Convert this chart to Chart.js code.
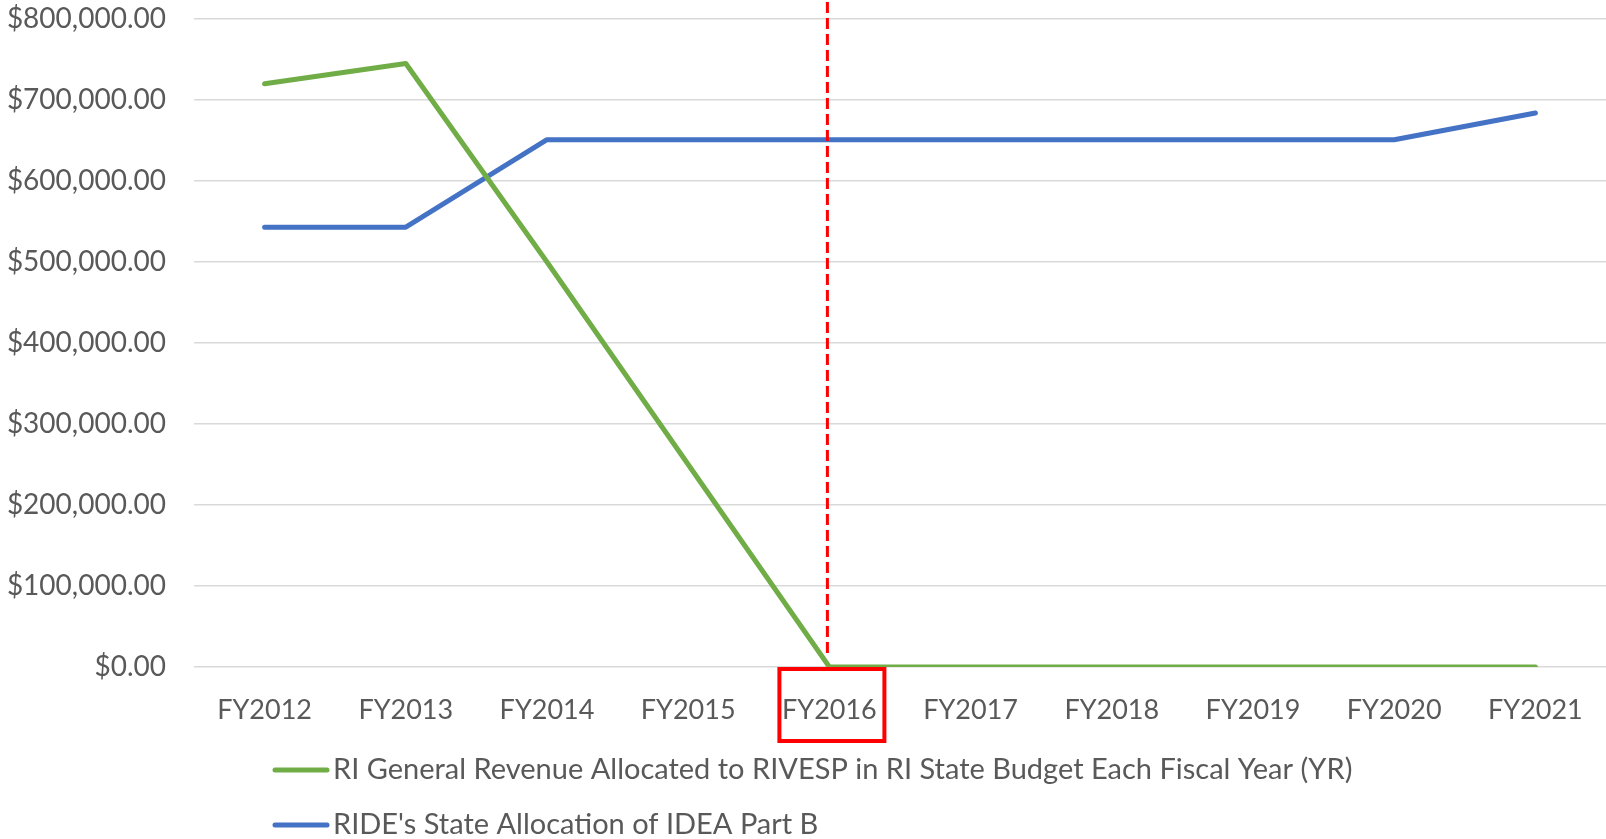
<!DOCTYPE html>
<html>
<head>
<meta charset="utf-8">
<script src="https://cdn.jsdelivr.net/npm/chart.js@4/dist/chart.umd.min.js"></script>
<style>
    html, body { margin: 0; padding: 0; background: #ffffff; }
    #wrap { width: 1606px; height: 839px; position: relative; }
</style>
</head>
<body>
<div id="wrap"><canvas id="chart"></canvas></div>
<script>
// Data
const categories = ['FY2012', 'FY2013', 'FY2014', 'FY2015', 'FY2016', 'FY2017', 'FY2018', 'FY2019', 'FY2020', 'FY2021'];
const rivespRevenue = [720000, 745000, 500000, 250000, 0, 0, 0, 0, 0, 0];
const ideaPartB = [543000, 543000, 651000, 651000, 651000, 651000, 651000, 651000, 651000, 684000];
const yTicks = [0, 100000, 200000, 300000, 400000, 500000, 600000, 700000, 800000];
const seriesLabels = [
    'RI General Revenue Allocated to RIVESP in RI State Budget Each Fiscal Year (YR)',
    "RIDE's State Allocation of IDEA Part B"
];
const highlightCategory = 'FY2016';

const FONT = "Lato, 'Open Sans', sans-serif";
const TEXT_COLOR = '#595959';

// Red dashed marker + box around the highlighted year
const highlightPlugin = {
    id: 'highlight',
    afterDatasetsDraw(chart) {
        const ctx = chart.ctx;
        const x = chart.scales.x.getPixelForValue(categories.indexOf(highlightCategory));
        const bottom = chart.chartArea.bottom;
        ctx.save();
        ctx.strokeStyle = '#ff0000';
        ctx.lineWidth = 3;
        ctx.setLineDash([11, 5]);
        ctx.beginPath();
        ctx.moveTo(x - 2, 2);
        ctx.lineTo(x - 2, bottom - 10);
        ctx.stroke();
        ctx.setLineDash([]);
        ctx.lineWidth = 4;
        ctx.strokeRect(x - 50, bottom + 2, 105, 72);
        ctx.restore();
    }
};

// Legend drawn as two left-aligned rows under the axis
const legendPlugin = {
    id: 'rowLegend',
    afterDraw(chart) {
        const ctx = chart.ctx;
        const rows = [770, 825];
        ctx.save();
        chart.data.datasets.forEach((ds, i) => {
            const y = rows[i];
            ctx.strokeStyle = ds.borderColor;
            ctx.lineWidth = 5;
            ctx.lineCap = 'round';
            ctx.beginPath();
            ctx.moveTo(275, y);
            ctx.lineTo(327, y);
            ctx.stroke();
            ctx.fillStyle = TEXT_COLOR;
            ctx.font = '29px ' + FONT;
            ctx.textBaseline = 'middle';
            ctx.textAlign = 'left';
            ctx.fillText(ds.label, 333, y);
        });
        ctx.restore();
    }
};

new Chart(document.getElementById('chart'), {
    type: 'line',
    data: {
        labels: categories,
        datasets: [
            {
                label: seriesLabels[0],
                data: rivespRevenue,
                borderColor: '#70ad47',
                backgroundColor: '#70ad47',
                borderWidth: 5,
                borderCapStyle: 'round',
                borderJoinStyle: 'round',
                pointRadius: 0,
                tension: 0
            },
            {
                label: seriesLabels[1],
                data: ideaPartB,
                borderColor: '#4472c4',
                backgroundColor: '#4472c4',
                borderWidth: 5,
                borderCapStyle: 'round',
                borderJoinStyle: 'round',
                pointRadius: 0,
                tension: 0
            }
        ]
    },
    options: {
        responsive: true,
        maintainAspectRatio: false,
        animation: false,
        layout: {
            padding: { top: 19, right: 0, bottom: 100, left: 0 }
        },
        plugins: {
            legend: { display: false },
            tooltip: { enabled: false }
        },
        scales: {
            x: {
                offset: true,
                grid: { display: false },
                border: { display: false },
                ticks: {
                    color: TEXT_COLOR,
                    font: { family: FONT, size: 27 },
                    padding: 19,
                    maxRotation: 0
                },
                afterFit(scale) { scale.height = 72; }
            },
            y: {
                min: 0,
                max: 800000,
                afterBuildTicks(scale) {
                    scale.ticks = yTicks.map(v => ({ value: v }));
                },
                grid: {
                    color: '#d9d9d9',
                    lineWidth: 1.5,
                    drawTicks: false
                },
                border: { display: false },
                ticks: {
                    color: TEXT_COLOR,
                    font: { family: FONT, size: 28 },
                    padding: 28,
                    callback: function(value) {
                        return '$' + value.toLocaleString('en-US', { minimumFractionDigits: 2, maximumFractionDigits: 2 });
                    }
                },
                afterFit(scale) {
                    scale.width = 194;
                    scale.paddingTop = 0;
                    scale.paddingBottom = 0;
                }
            }
        }
    },
    plugins: [highlightPlugin, legendPlugin]
});
</script>
</body>
</html>
